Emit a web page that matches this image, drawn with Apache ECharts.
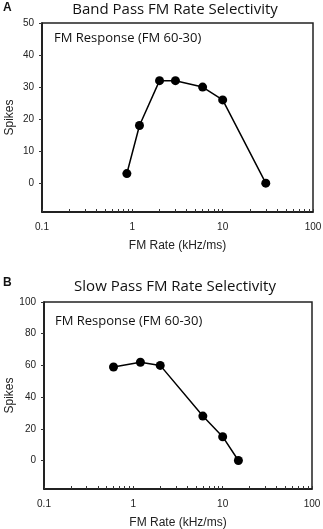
<!DOCTYPE html>
<html><head><meta charset="utf-8">
<script src="https://cdn.jsdelivr.net/npm/echarts@6/dist/echarts.min.js"></script>
<style>html,body{margin:0;padding:0;background:#fff}#c{width:323px;height:529px}</style>
</head><body><div id="c"></div>
<script>
const ratesA = [0.87, 1.2, 2.0, 3.0, 6.0, 10, 30];
const spikesA = [3, 18, 32, 32, 30, 26, 0];
const ratesB = [0.6, 1.2, 2.0, 6.0, 10, 15];
const spikesB = [59, 62, 60, 28, 15, 0];
const xTicks = [0.1, 1, 10, 100];
const yTicksA = [0, 10, 20, 30, 40, 50];
const yTicksB = [0, 20, 40, 60, 80, 100];
const minorX = [0.2,0.3,0.4,0.5,0.6,0.7,0.8,0.9,2,3,4,5,6,7,8,9,20,30,40,50,60,70,80,90];

const chart = echarts.init(document.getElementById('c'));
const lbl = {fontFamily:'Liberation Sans', fontSize:10, color:'#222'};
function xAx(gi){
  return {type:'log', gridIndex:gi, min:0.1, max:100, logBase:10,
    name:'FM Rate (kHz/ms)', nameLocation:'middle', nameGap:28, nameMoveOverlap:false,
    nameTextStyle:{fontFamily:'Liberation Sans', fontSize:12, color:'#222'},
    axisLine:{onZero:false, lineStyle:{color:'#111', width:1.5}},
    axisTick:{show:true, inside:true, length:3, customValues: xTicks.concat(minorX), lineStyle:{color:'#333'}},
    axisLabel:Object.assign({margin:10, customValues:xTicks, formatter:v=>String(v)}, lbl),
    splitLine:{show:false}};
}
function yAx(gi, min, max, ticks, gap){
  return {type:'value', gridIndex:gi, min:min, max:max,
    name:'Spikes', nameLocation:'middle', nameGap:gap, nameMoveOverlap:false,
    nameTextStyle:{fontFamily:'Liberation Sans', fontSize:12, color:'#222'},
    axisLine:{show:true, onZero:false, lineStyle:{color:'#111', width:1.5}},
    axisTick:{show:true, inside:false, length:3, customValues:ticks, lineStyle:{color:'#333'}},
    axisLabel:Object.assign({margin:8, customValues:ticks}, lbl),
    splitLine:{show:false}};
}
const ser = (gi, xs, ys) => ({type:'line', xAxisIndex:gi, yAxisIndex:gi,
  data: xs.map((x,i)=>[x, ys[i]]), symbol:'circle', symbolSize:9,
  itemStyle:{color:'#000'}, lineStyle:{color:'#000', width:1.5}, animation:false});

chart.setOption({
  animation:false,
  title:[
    {text:'A', left:3, top:2, padding:0, textStyle:{fontFamily:'Liberation Sans', fontWeight:'bold', fontSize:12, color:'#111'}},
    {text:'Band Pass FM Rate Selectivity', left:175, top:2, padding:0, textAlign:'center', textStyle:{fontFamily:'Open Sans', fontWeight:'normal', fontSize:15, color:'#111'}},
    {text:'FM Response (FM 60-30)', left:54, top:32, padding:0, textStyle:{fontFamily:'Open Sans', fontWeight:'normal', fontSize:13, color:'#111'}},
    {text:'B', left:3, top:277, padding:0, textStyle:{fontFamily:'Liberation Sans', fontWeight:'bold', fontSize:12, color:'#111'}},
    {text:'Slow Pass FM Rate Selectivity', left:175, top:279, padding:0, textAlign:'center', textStyle:{fontFamily:'Open Sans', fontWeight:'normal', fontSize:15, color:'#111'}},
    {text:'FM Response (FM 60-30)', left:55, top:315, padding:0, textStyle:{fontFamily:'Open Sans', fontWeight:'normal', fontSize:13, color:'#111'}}
  ],
  grid:[
    {left:42, right:10, top:23, height:189, show:true, borderColor:'#222', borderWidth:1.5, containLabel:false, outerBoundsMode:'none'},
    {left:44, right:11, top:302, height:187, show:true, borderColor:'#222', borderWidth:1.5, containLabel:false, outerBoundsMode:'none'}
  ],
  xAxis:[xAx(0), xAx(1)],
  yAxis:[yAx(0, -9, 50, yTicksA, 26), yAx(1, -18, 100, yTicksB, 28)],
  series:[ser(0, ratesA, spikesA), ser(1, ratesB, spikesB)]
});
</script></body></html>
